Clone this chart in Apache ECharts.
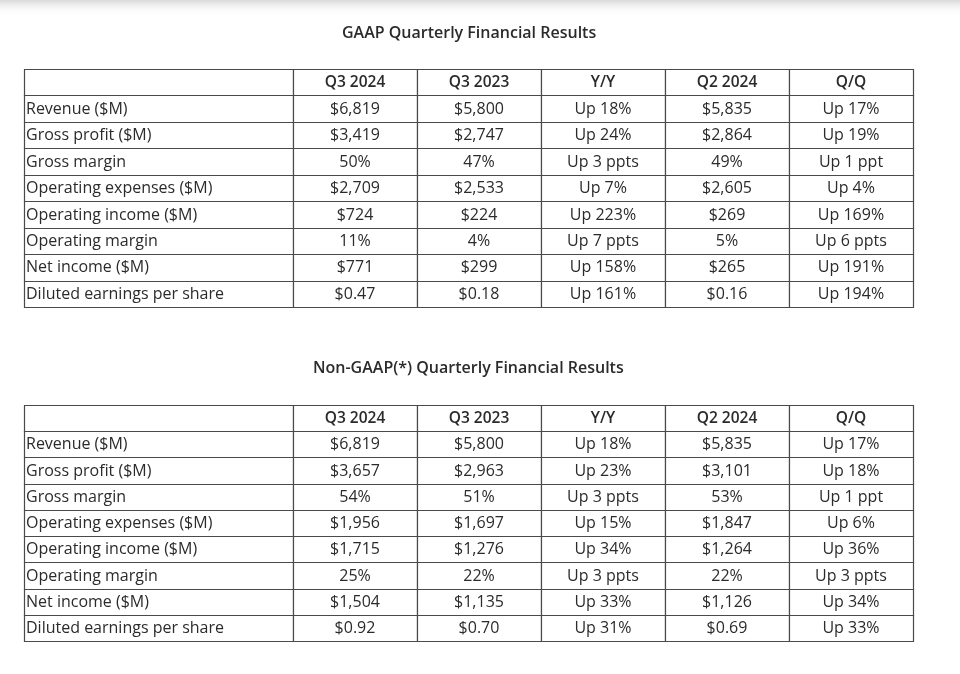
<!DOCTYPE html>
<html>
<head>
<meta charset="utf-8">
<script src="https://cdn.jsdelivr.net/npm/echarts@6/dist/echarts.min.js"></script>
<style>html,body{margin:0;padding:0;background:#fff}#c{width:960px;height:674px}</style>
</head>
<body>
<div id="c"></div>
<script>
// ---- data ----
const titleGaap = 'GAAP Quarterly Financial Results';
const titleNonGaap = 'Non-GAAP(*) Quarterly Financial Results';
const colHeaders = ['Q3 2024', 'Q3 2023', 'Y/Y', 'Q2 2024', 'Q/Q'];
const rowLabels = ['Revenue ($M)', 'Gross profit ($M)', 'Gross margin', 'Operating expenses ($M)',
  'Operating income ($M)', 'Operating margin', 'Net income ($M)', 'Diluted earnings per share'];

const gaapQ3_2024 = ['$6,819', '$3,419', '50%', '$2,709', '$724', '11%', '$771', '$0.47'];
const gaapQ3_2023 = ['$5,800', '$2,747', '47%', '$2,533', '$224', '4%', '$299', '$0.18'];
const gaapYY = ['Up 18%', 'Up 24%', 'Up 3 ppts', 'Up 7%', 'Up 223%', 'Up 7 ppts', 'Up 158%', 'Up 161%'];
const gaapQ2_2024 = ['$5,835', '$2,864', '49%', '$2,605', '$269', '5%', '$265', '$0.16'];
const gaapQQ = ['Up 17%', 'Up 19%', 'Up 1 ppt', 'Up 4%', 'Up 169%', 'Up 6 ppts', 'Up 191%', 'Up 194%'];

const nonQ3_2024 = ['$6,819', '$3,657', '54%', '$1,956', '$1,715', '25%', '$1,504', '$0.92'];
const nonQ3_2023 = ['$5,800', '$2,963', '51%', '$1,697', '$1,276', '22%', '$1,135', '$0.70'];
const nonYY = ['Up 18%', 'Up 23%', 'Up 3 ppts', 'Up 15%', 'Up 34%', 'Up 3 ppts', 'Up 33%', 'Up 31%'];
const nonQ2_2024 = ['$5,835', '$3,101', '53%', '$1,847', '$1,264', '22%', '$1,126', '$0.69'];
const nonQQ = ['Up 17%', 'Up 18%', 'Up 1 ppt', 'Up 6%', 'Up 36%', 'Up 3 ppts', 'Up 34%', 'Up 33%'];

// ---- build ----
const FONT = '"Open Sans", "Noto Sans", sans-serif';
const TEXT = '#2b2b2b';
const LINE = '#4a4a4a';
const rowCats = [''].concat(rowLabels);

function labelData() {
  const d = [[0, 0, '', 0]];
  rowLabels.forEach((l, i) => d.push([0, i + 1, l, 0]));
  return d;
}
function valueData(cols) {
  const d = [];
  colHeaders.forEach((h, j) => d.push([j, 0, h, 1]));
  cols.forEach((col, j) => col.forEach((v, i) => d.push([j, i + 1, v, 0])));
  return d;
}
function renderCell(align) {
  return function (params, api) {
    const c = api.coord([api.value(0), api.value(1)]);
    const s = api.size([1, 1]);
    const x0 = Math.round(c[0] - s[0] / 2) + 0.5;
    const y0 = Math.round(c[1] - s[1] / 2) + 0.5;
    const x1 = Math.round(c[0] + s[0] / 2) + 0.5;
    const y1 = Math.round(c[1] + s[1] / 2) + 0.5;
    const bold = api.value(3) === 1;
    return {
      type: 'group',
      children: [
        { type: 'rect', shape: { x: x0, y: y0, width: x1 - x0, height: y1 - y0 },
          style: { fill: '#fff', stroke: LINE, lineWidth: 1.2 } },
        { type: 'text', style: {
            text: api.value(2),
            x: align === 'left' ? x0 + 1.5 : c[0],
            y: c[1] + 0.5,
            align: align, verticalAlign: 'middle',
            fontFamily: FONT, fontSize: bold ? 15.5 : 16, fontWeight: bold ? 600 : 'normal',
            fill: TEXT } }
      ]
    };
  };
}

const grids = [
  { left: 24, top: 69, width: 269, height: 238 },
  { left: 293, top: 69, width: 620, height: 238 },
  { left: 24, top: 405, width: 269, height: 236 },
  { left: 293, top: 405, width: 620, height: 236 }
];
const xAxes = grids.map((g, i) => ({ type: 'category', gridIndex: i, show: false,
  data: (i % 2 === 0) ? [''] : colHeaders }));
const yAxes = grids.map((g, i) => ({ type: 'category', gridIndex: i, show: false, inverse: true, data: rowCats }));

const series = [
  { type: 'custom', xAxisIndex: 0, yAxisIndex: 0, renderItem: renderCell('left'), data: labelData(), silent: true },
  { type: 'custom', xAxisIndex: 1, yAxisIndex: 1, renderItem: renderCell('center'),
    data: valueData([gaapQ3_2024, gaapQ3_2023, gaapYY, gaapQ2_2024, gaapQQ]), silent: true },
  { type: 'custom', xAxisIndex: 2, yAxisIndex: 2, renderItem: renderCell('left'), data: labelData(), silent: true },
  { type: 'custom', xAxisIndex: 3, yAxisIndex: 3, renderItem: renderCell('center'),
    data: valueData([nonQ3_2024, nonQ3_2023, nonYY, nonQ2_2024, nonQQ]), silent: true }
];

const chart = echarts.init(document.getElementById('c'), null, { renderer: 'canvas' });
chart.setOption({
  backgroundColor: '#fff',
  animation: false,
  title: [
    { text: titleGaap, left: 337, top: 20,
      textStyle: { fontFamily: FONT, fontSize: 16, fontWeight: 600, color: TEXT } },
    { text: titleNonGaap, left: 308, top: 355,
      textStyle: { fontFamily: FONT, fontSize: 16, fontWeight: 600, color: TEXT } }
  ],
  graphic: [
    { type: 'rect', left: 0, top: 0, shape: { width: 960, height: 16 }, silent: true,
      style: { fill: new echarts.graphic.LinearGradient(0, 0, 0, 1, [
        { offset: 0, color: '#d9d9d9' }, { offset: 1, color: 'rgba(255,255,255,0)' }]) } }
  ],
  grid: grids,
  xAxis: xAxes,
  yAxis: yAxes,
  series: series
});
</script>
</body>
</html>
